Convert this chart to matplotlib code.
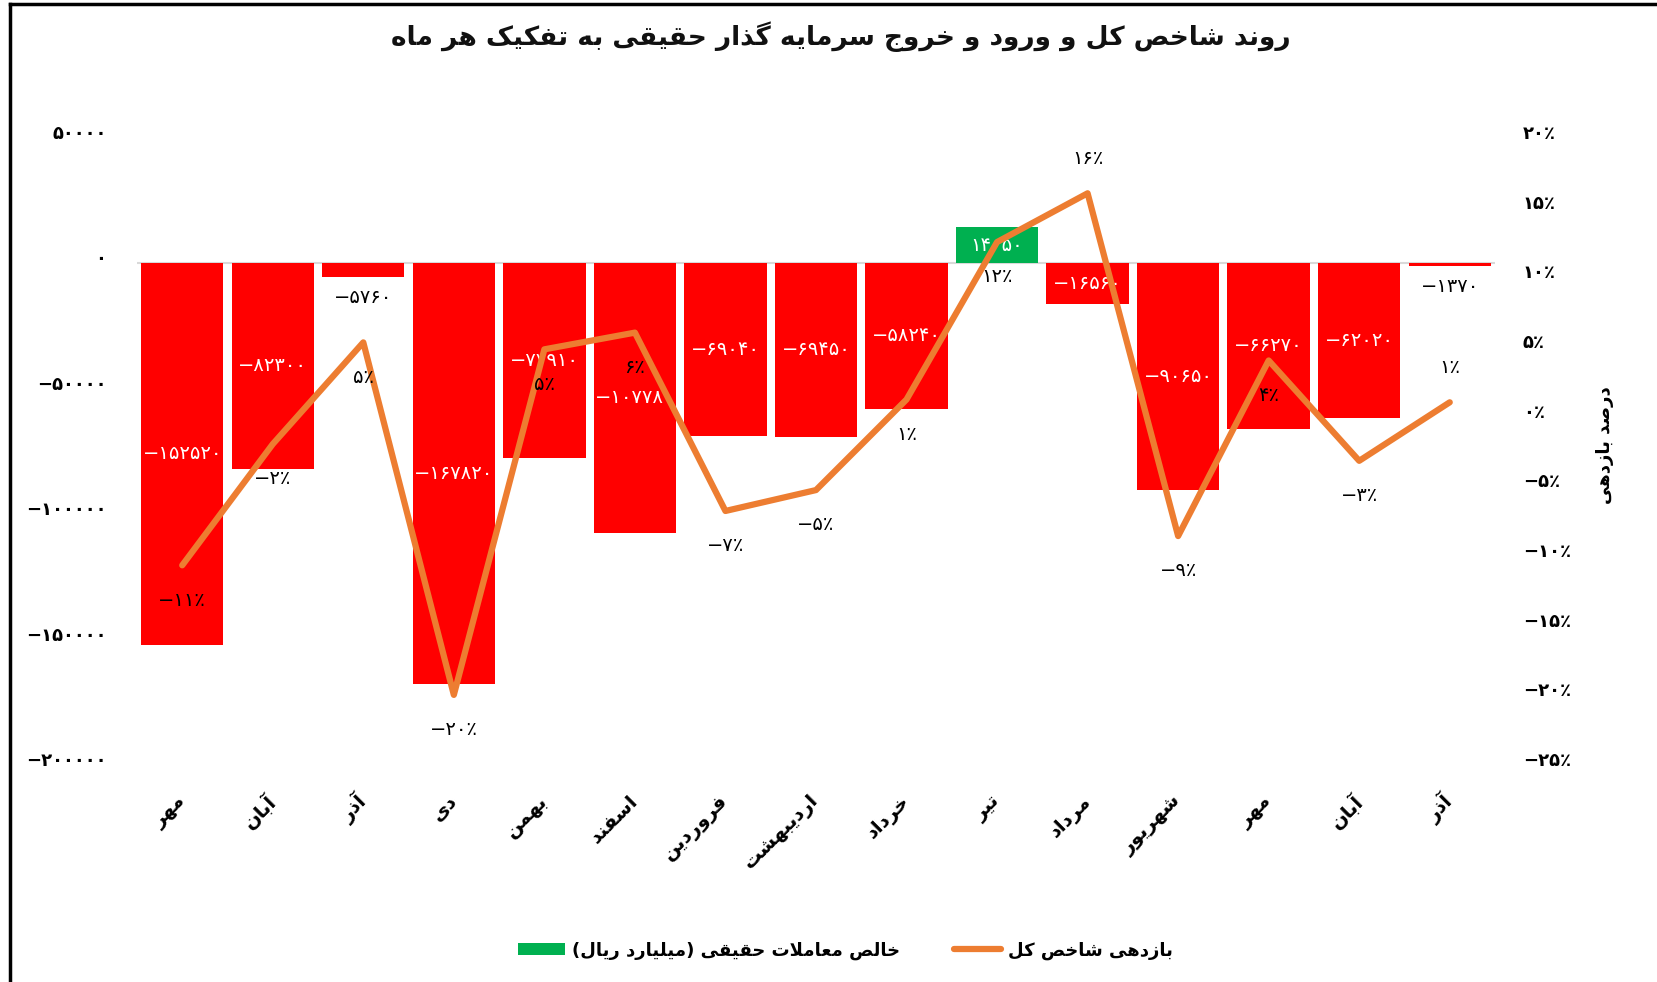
import matplotlib

matplotlib.use("Agg")
import matplotlib.pyplot as plt
import numpy as np
from matplotlib.lines import Line2D
from matplotlib.patches import Patch

# Months (Persian calendar), bar values (billion rials) and index returns (%)
months = [
    "مهر", "آبان", "آذر", "دی", "بهمن", "اسفند", "فروردین", "اردیبهشت",
    "خرداد", "تیر", "مرداد", "شهریور", "مهر", "آبان", "آذر",
]
net_flow = [
    -152520, -82300, -5760, -167820, -77910, -107780, -69040, -69450,
    -58240, 14050, -16560, -90650, -66270, -62020, -1370,
]
index_return = [
    -11.1, -2.4, 4.9, -20.4, 4.4, 5.6, -7.2, -5.7,
    0.8, 12.1, 15.6, -9.0, 3.6, -3.6, 0.6,
]
return_labels = [-11, -2, 5, -20, 5, 6, -7, -5, 1, 12, 16, -9, 4, -3, 1]
left_ticks = [50000, 0, -50000, -100000, -150000, -200000]
right_ticks = [20, 15, 10, 5, 0, -5, -10, -15, -20, -25]

title = "روند شاخص کل و ورود و خروج سرمایه گذار حقیقی به تفکیک هر ماه"
bar_name = "خالص معاملات حقیقی (میلیارد ریال)"
line_name = "بازدهی شاخص کل"
right_label = "درصد بازدهی"

# Arabic presentation forms: isolated, final, initial, medial
FORMS = {
    "ا": ("\ufe8d", "\ufe8e"), "آ": ("\ufe81", "\ufe82"),
    "د": ("\ufea9", "\ufeaa"), "ذ": ("\ufeab", "\ufeac"),
    "ر": ("\ufead", "\ufeae"), "ز": ("\ufeaf", "\ufeb0"),
    "ژ": ("\ufb8a", "\ufb8b"), "و": ("\ufeed", "\ufeee"),
    "ب": ("\ufe8f", "\ufe90", "\ufe91", "\ufe92"),
    "پ": ("\ufb56", "\ufb57", "\ufb58", "\ufb59"),
    "ت": ("\ufe95", "\ufe96", "\ufe97", "\ufe98"),
    "ج": ("\ufe9d", "\ufe9e", "\ufe9f", "\ufea0"),
    "ح": ("\ufea1", "\ufea2", "\ufea3", "\ufea4"),
    "خ": ("\ufea5", "\ufea6", "\ufea7", "\ufea8"),
    "س": ("\ufeb1", "\ufeb2", "\ufeb3", "\ufeb4"),
    "ش": ("\ufeb5", "\ufeb6", "\ufeb7", "\ufeb8"),
    "ص": ("\ufeb9", "\ufeba", "\ufebb", "\ufebc"),
    "ع": ("\ufec9", "\ufeca", "\ufecb", "\ufecc"),
    "ف": ("\ufed1", "\ufed2", "\ufed3", "\ufed4"),
    "ق": ("\ufed5", "\ufed6", "\ufed7", "\ufed8"),
    "ک": ("\ufb8e", "\ufb8f", "\ufb90", "\ufb91"),
    "گ": ("\ufb92", "\ufb93", "\ufb94", "\ufb95"),
    "ل": ("\ufedd", "\ufede", "\ufedf", "\ufee0"),
    "م": ("\ufee1", "\ufee2", "\ufee3", "\ufee4"),
    "ن": ("\ufee5", "\ufee6", "\ufee7", "\ufee8"),
    "ه": ("\ufee9", "\ufeea", "\ufeeb", "\ufeec"),
    "ی": ("\ufbfc", "\ufbfd", "\ufbfe", "\ufbff"),
}
MIRROR = {"(": ")", ")": "("}


def shape(text):
    """Join Persian letters and flip to visual order (no bidi library here)"""
    chars = list(text)
    # lam-alef ligature
    merged = []
    i = 0
    while i < len(chars):
        if chars[i] == "ل" and i + 1 < len(chars) and chars[i + 1] in "اآ":
            merged.append("LA")
            i += 2
        else:
            merged.append(chars[i])
            i += 1
    out = []
    for i, c in enumerate(merged):
        prev = merged[i - 1] if i > 0 else None
        nxt = merged[i + 1] if i + 1 < len(merged) else None
        joins_prev = prev in FORMS and len(FORMS[prev]) == 4
        if c == "LA":
            out.append("\ufefc" if joins_prev else "\ufefb")
            continue
        if c not in FORMS:
            out.append(MIRROR.get(c, c))
            continue
        forms = FORMS[c]
        joins_next = len(forms) == 4 and (nxt in FORMS or nxt == "LA")
        if joins_prev and joins_next:
            out.append(forms[3])
        elif joins_prev:
            out.append(forms[1])
        elif joins_next:
            out.append(forms[2])
        else:
            out.append(forms[0])
    return "".join(reversed(out))


def fa_num(value, suffix=""):
    digits = str(abs(int(value))).translate(str.maketrans("0123456789", "۰۱۲۳۴۵۶۷۸۹"))
    return ("−" if value < 0 else "") + digits + suffix


plt.rcParams["font.family"] = ["DejaVu Sans"]

fig = plt.figure(figsize=(16.58, 9.82), dpi=100)
ax = fig.add_axes([0.0826, 0.2271, 0.8191, 0.6385])
ax2 = ax.twinx()

x = np.arange(len(months))
colors = ["#00B050" if v > 0 else "#FF0000" for v in net_flow]
ax.bar(x, net_flow, width=0.91, color=colors, zorder=2)
ax.axhline(0, color="#D9D9D9", lw=1.5, zorder=1)
ax.set_xlim(-0.5, len(months) - 0.5)
# the bars sit a few pixels below the printed tick labels in the original,
# so the labels are nudged up by the same amount
ax.set_ylim(-197900, 52100)
ax.set_yticks([t + 2100 for t in left_ticks])
ax.set_yticklabels([fa_num(t) for t in left_ticks], fontsize=13, fontweight="bold")
ax.set_xticks(x)
ax.set_xticklabels(
    [shape(m) for m in months], rotation=45, ha="right", va="center",
    rotation_mode="anchor", fontsize=14, fontweight="bold",
)
ax.tick_params(axis="x", length=0, pad=28)
ax.tick_params(axis="y", length=0, pad=22)

for xi, v in zip(x, net_flow):
    if abs(v) < 10000:
        ax.annotate(fa_num(v), (xi, v), xytext=(0, -15), textcoords="offset points",
                    ha="center", va="center", fontsize=14, color="black")
    else:
        ax.text(xi, v / 2, fa_num(v), ha="center", va="center", fontsize=14,
                color="white", zorder=3)

ax2.plot(x, np.array(index_return) / 100, color="#ED7D31", lw=4.5,
         solid_capstyle="round", solid_joinstyle="round", zorder=4)
ax2.set_ylim(-0.25, 0.20)
ax2.set_yticks(np.array(right_ticks) / 100)
ax2.set_yticklabels([fa_num(t, "٪") for t in right_ticks], fontsize=13,
                    fontweight="bold")
ax2.tick_params(axis="y", length=0, pad=20)
ax2.set_ylabel(shape(right_label), rotation=90, fontsize=13, fontweight="bold",
               labelpad=18)

above = {10, 14}
for xi, r, lab in zip(x, index_return, return_labels):
    dy = 25 if xi in above else -25
    ax2.annotate(fa_num(lab, "٪"), (xi, r / 100), xytext=(0, dy),
                 textcoords="offset points", ha="center", va="center",
                 fontsize=14, color="black", zorder=5)

for a in (ax, ax2):
    for s in a.spines.values():
        s.set_visible(False)

fig.text(0.507, 0.963, shape(title), ha="center", va="center", fontsize=19,
         fontweight="bold", color="#111111")

handles = [
    Patch(facecolor="#00B050", label=shape(bar_name)),
    Line2D([0], [0], color="#ED7D31", lw=4.5, solid_capstyle="round",
           label=shape(line_name)),
]
fig.legend(handles=handles, loc="center", bbox_to_anchor=(0.51, 0.032), ncol=2,
           frameon=False, columnspacing=3.0, handlelength=2.6, handletextpad=0.4,
           prop={"size": 13, "weight": "bold"})

# frame lines at the top and left of the picture
fig.add_artist(Line2D([0.006, 1.0], [0.996, 0.996], color="black", lw=2.5,
                      transform=fig.transFigure))
fig.add_artist(Line2D([0.006, 0.006], [0.0, 0.996], color="black", lw=2.5,
                      transform=fig.transFigure))

fig.savefig("out.png", dpi=100, facecolor="white")
